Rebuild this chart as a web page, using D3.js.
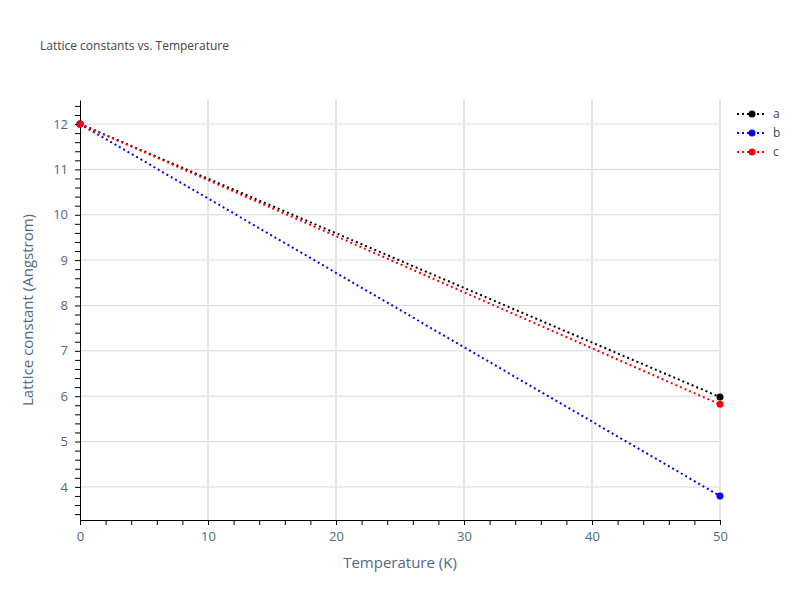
<!DOCTYPE html>
<html lang="en">
<head>
    <meta charset="UTF-8">
    <title>Lattice constants</title>
    <script src="https://d3js.org/d3.v7.min.js"></script>
    <style>
        body { margin: 0; background: white; }
        text { font-family: "Open Sans", Arial, sans-serif; fill: #444; }
    </style>
</head>
<body>
<svg id="viz" width="800" height="600"></svg>
<script>
    var temps = [0, 50];
    var seriesNames = ["a", "b", "c"];
    var seriesColors = ["black", "blue", "red"];
    var aValues = [12, 5.98];
    var bValues = [12, 3.8];
    var cValues = [12, 5.82];
    var xTicks = [0, 10, 20, 30, 40, 50];
    var yTicks = [4, 5, 6, 7, 8, 9, 10, 11, 12];

    var allValues = [aValues, bValues, cValues];
    var plotLeft = 80, plotRight = 720, plotTop = 100, plotBottom = 520;

    var svg = d3.select("#viz");
    var x = d3.scaleLinear().domain([0, 50]).range([plotLeft, plotRight]);
    var y = d3.scaleLinear().domain([3.27, 12.53]).range([plotBottom, plotTop]);

    // grid
    svg.append("g").selectAll("line").data(yTicks).enter().append("line")
        .attr("x1", plotLeft).attr("x2", plotRight)
        .attr("y1", function(d){ return y(d); }).attr("y2", function(d){ return y(d); })
        .attr("stroke", "#d8d8d8");
    svg.append("g").selectAll("line").data(xTicks.slice(1)).enter().append("line")
        .attr("y1", plotTop).attr("y2", plotBottom)
        .attr("x1", function(d){ return x(d); }).attr("x2", function(d){ return x(d); })
        .attr("stroke", "#e4e4e4").attr("stroke-width", 2);

    // axes with minor ticks
    var xMinor = d3.axisBottom(x).tickValues(d3.range(0, 50.01, 2)).tickSize(5).tickSizeOuter(0).tickFormat("");
    svg.append("g").attr("transform", "translate(0," + plotBottom + ")").call(xMinor);
    var xAxis = d3.axisBottom(x).tickValues(xTicks).tickSize(0).tickPadding(12);
    svg.append("g").attr("transform", "translate(0," + plotBottom + ")").call(xAxis)
        .select(".domain").remove();

    var yMinor = d3.axisLeft(y).tickValues(d3.range(3.4, 12.51, 0.2)).tickSize(5).tickSizeOuter(0).tickFormat("");
    svg.append("g").attr("transform", "translate(" + plotLeft + ",0)").call(yMinor);
    var yAxis = d3.axisLeft(y).tickValues(yTicks).tickSize(0).tickPadding(12);
    svg.append("g").attr("transform", "translate(" + plotLeft + ",0)").call(yAxis)
        .select(".domain").remove();

    svg.selectAll(".tick text").attr("font-size", 13).style("fill", "#506784");

    // lines
    var line = d3.line().x(function(d, i){ return x(temps[i]); }).y(function(d){ return y(d); });
    allValues.forEach(function(vals, k) {
        svg.append("path").datum(vals).attr("d", line)
            .attr("fill", "none").attr("stroke", seriesColors[k])
            .attr("stroke-width", 2).attr("stroke-dasharray", "2,3");
        svg.selectAll(null).data(vals).enter().append("circle")
            .attr("cx", function(d, i){ return x(temps[i]); })
            .attr("cy", function(d){ return y(d); })
            .attr("r", 3.5).attr("fill", seriesColors[k]);
    });

    // legend
    seriesNames.forEach(function(n, k) {
        var ly = 114 + k * 19;
        svg.append("line").attr("x1", 737).attr("x2", 767).attr("y1", ly).attr("y2", ly)
            .attr("stroke", seriesColors[k]).attr("stroke-width", 2).attr("stroke-dasharray", "2,3");
        svg.append("circle").attr("cx", 752).attr("cy", ly).attr("r", 3.5).attr("fill", seriesColors[k]);
        svg.append("text").attr("x", 773).attr("y", ly + 4).attr("font-size", 12).text(n);
    });

    svg.append("text").attr("x", 40).attr("y", 50).attr("font-size", 12).text("Lattice constants vs. Temperature");
    svg.append("text").attr("x", 400).attr("y", 568).attr("text-anchor", "middle").attr("font-size", 15)
        .style("fill", "#506784").text("Temperature (K)");
    svg.append("text").attr("transform", "translate(33,310) rotate(-90)").attr("text-anchor", "middle")
        .attr("font-size", 15).style("fill", "#506784").text("Lattice constant (Angstrom)");
</script>
</body>
</html>
